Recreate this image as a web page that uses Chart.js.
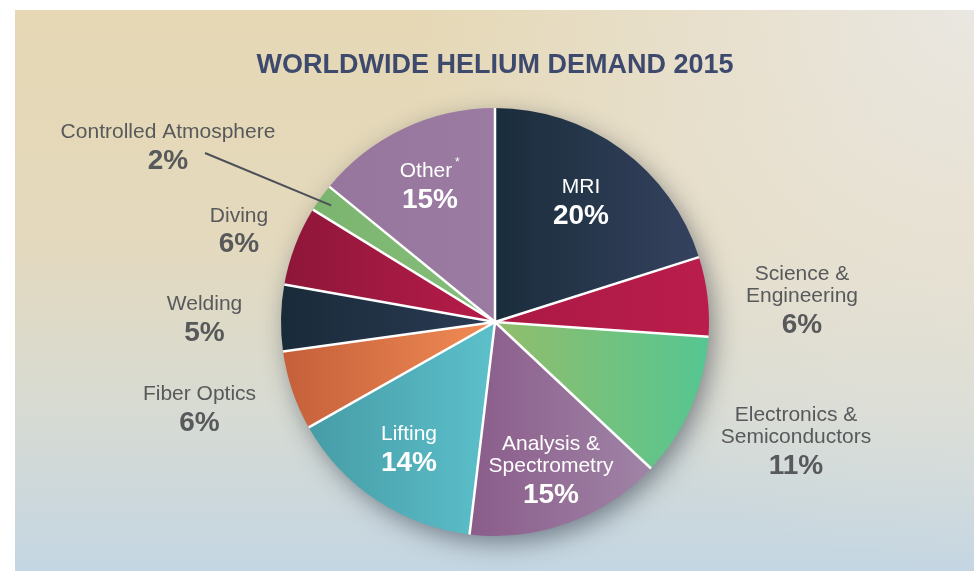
<!DOCTYPE html>
<html>
<head>
<meta charset="utf-8">
<script src="https://cdn.jsdelivr.net/npm/chart.js@4"></script>
<style>
  html, body { margin: 0; padding: 0; background: #fff; }
  canvas { display: block; }
</style>
</head>
<body>
<canvas id="c" width="974" height="571"></canvas>
<script>
// ---- data ----
const categories = ['MRI', 'Science & Engineering', 'Electronics & Semiconductors', 'Analysis & Spectrometry',
  'Lifting', 'Fiber Optics', 'Welding', 'Diving', 'Controlled Atmosphere', 'Other'];
const nameLines = [['MRI'], ['Science &', 'Engineering'], ['Electronics &', 'Semiconductors'],
  ['Analysis &', 'Spectrometry'], ['Lifting'], ['Fiber Optics'], ['Welding'], ['Diving'],
  ['Controlled Atmosphere'], ['Other']];
const shareValues = [20.1, 6.0, 10.9, 14.9, 14.9, 6.0, 5.0, 6.0, 2.1, 14.1];
const percentLabels = ['20%', '6%', '11%', '15%', '14%', '6%', '5%', '6%', '2%', '15%'];
const chartTitle = 'WORLDWIDE HELIUM DEMAND 2015';

// ---- styles ----
const sliceColors = [
  ['#1a2d3b', '#35425f'], ['#ab1944', '#ba1d4b'], ['#93bd6a', '#55c691'], ['#8a5c8a', '#a084a6'],
  ['#469ca6', '#5cc0cb'], ['#c45f3a', '#f28c55'], ['#192b39', '#2b3b55'], ['#8e1639', '#b71c49'],
  ['#7ab46e', '#86bf7b'], ['#97769d', '#9b7ba1']];
const insideLabel = [true, false, false, true, true, false, false, false, false, true];
// label anchor (centre x, first baseline) relative to pie centre, in px at radius 214
const labelOffsets = [[86, -129], [307, -42], [301, 99], [56, 128], [-86, 118], [-295.5, 78],
  [-290.5, -12], [-256, -100.5], [-327, -184], [-65, -145]];

function sliceXRange(chart, i) {
  const a = chart.chartArea;
  const cx = (a.left + a.right) / 2, r = Math.min(a.width, a.height) / 2;
  const total = shareValues.reduce((s, v) => s + v, 0);
  let cum = 0;
  for (let k = 0; k < i; k++) cum += shareValues[k];
  const a0 = -Math.PI / 2 + 2 * Math.PI * cum / total;
  const a1 = a0 + 2 * Math.PI * shareValues[i] / total;
  const xs = [cx, cx + r * Math.cos(a0), cx + r * Math.cos(a1)];
  for (let t = -4; t <= 4; t++) {
    const ang = t * Math.PI;
    if (ang > a0 && ang < a1) xs.push(cx + r * Math.cos(ang));
  }
  return [Math.min(...xs), Math.max(...xs)];
}

const deco = {
  id: 'deco',
  beforeDraw(chart) {
    const ctx = chart.ctx, W = chart.width, H = chart.height;
    ctx.save();
    ctx.fillStyle = '#ffffff';
    ctx.fillRect(0, 0, W, H);
    const px = 15, py = 10;
    const g1 = ctx.createLinearGradient(0, py, 0, H);
    g1.addColorStop(0, '#e6d8b5');
    g1.addColorStop(0.4, '#e4d9bd');
    g1.addColorStop(0.7, '#d8dbd2');
    g1.addColorStop(1, '#c4d6e3');
    ctx.fillStyle = g1;
    ctx.fillRect(px, py, W - px, H - py);
    const g2 = ctx.createRadialGradient(W, py, 0, W, py, 560);
    g2.addColorStop(0, 'rgba(234,232,228,0.95)');
    g2.addColorStop(1, 'rgba(234,232,228,0)');
    ctx.fillStyle = g2;
    ctx.fillRect(px, py, W - px, H - py);
    ctx.restore();
  },
  beforeDatasetsDraw(chart) {
    const el = chart.getDatasetMeta(0).data[0];
    if (!el) return;
    const ctx = chart.ctx;
    ctx.save();
    ctx.shadowColor = 'rgba(30,40,55,0.5)';
    ctx.shadowBlur = 24;
    ctx.shadowOffsetX = 5;
    ctx.shadowOffsetY = 8;
    ctx.fillStyle = '#8a96a3';
    ctx.beginPath();
    ctx.arc(el.x, el.y, el.outerRadius - 1, 0, Math.PI * 2);
    ctx.fill();
    ctx.restore();
  },
  afterDatasetsDraw(chart) {
    const ctx = chart.ctx;
    const meta = chart.getDatasetMeta(0);
    const arcs = meta.data;
    if (!arcs.length) return;
    const cx = arcs[0].x, cy = arcs[0].y, R = arcs[0].outerRadius;
    const s = R / 214;
    ctx.save();
    // separators
    ctx.strokeStyle = '#ffffff';
    ctx.lineWidth = 2.5;
    arcs.forEach(a => {
      ctx.beginPath();
      ctx.moveTo(cx, cy);
      ctx.lineTo(cx + R * Math.cos(a.startAngle), cy + R * Math.sin(a.startAngle));
      ctx.stroke();
    });
    // labels
    ctx.textAlign = 'center';
    ctx.textBaseline = 'alphabetic';
    categories.forEach((c, i) => {
      const lx = cx + labelOffsets[i][0] * s;
      let ly = cy + labelOffsets[i][1] * s;
      ctx.fillStyle = insideLabel[i] ? '#ffffff' : '#58595b';
      ctx.font = '21px "Liberation Sans", Arial, sans-serif';
      const lines = nameLines[i];
      lines.forEach((t, k) => {
        if (t === 'Other') {
          ctx.fillText(t, lx - 4, ly + k * 22);
          const w = ctx.measureText(t).width;
          ctx.font = '12px "Liberation Sans", Arial, sans-serif';
          ctx.fillText('*', lx - 4 + w / 2 + 5, ly + k * 22 - 11);
          ctx.font = '21px "Liberation Sans", Arial, sans-serif';
        } else {
          ctx.fillText(t, lx, ly + k * 22);
        }
      });
      ctx.font = 'bold 28px "Liberation Sans", Arial, sans-serif';
      ctx.fillText(percentLabels[i], lx, ly + (lines.length - 1) * 22 + 30.5);
    });
    // leader line for Controlled Atmosphere
    const ca = 8;
    const a = arcs[ca];
    const mid = (a.startAngle + a.endAngle) / 2;
    const sx = cx + (labelOffsets[ca][0] + 37) * s, sy = cy + (labelOffsets[ca][1] + 15) * s;
    ctx.strokeStyle = '#4b5057';
    ctx.lineWidth = 2;
    ctx.beginPath();
    ctx.moveTo(sx, sy);
    ctx.lineTo(cx + 0.94 * R * Math.cos(mid), cy + 0.94 * R * Math.sin(mid));
    ctx.stroke();
    // title
    ctx.fillStyle = '#3d4a6d';
    ctx.font = 'bold 27px "Liberation Sans", Arial, sans-serif';
    ctx.textAlign = 'center';
    ctx.fillText(chartTitle, cx, 73);
    ctx.restore();
  }
};

new Chart(document.getElementById('c'), {
  type: 'pie',
  data: {
    labels: categories,
    datasets: [{
      data: shareValues,
      borderWidth: 0,
      backgroundColor(context) {
        const chart = context.chart;
        if (!chart.chartArea) return sliceColors[context.dataIndex][0];
        const [x0, x1] = sliceXRange(chart, context.dataIndex);
        const g = chart.ctx.createLinearGradient(x0, 0, x1, 0);
        g.addColorStop(0, sliceColors[context.dataIndex][0]);
        g.addColorStop(1, sliceColors[context.dataIndex][1]);
        return g;
      }
    }]
  },
  options: {
    responsive: false,
    animation: false,
    devicePixelRatio: 1,
    layout: { padding: { left: 281, right: 265, top: 108, bottom: 35 } },
    plugins: { legend: { display: false }, tooltip: { enabled: false }, title: { display: false } }
  },
  plugins: [deco]
});
</script>
</body>
</html>
